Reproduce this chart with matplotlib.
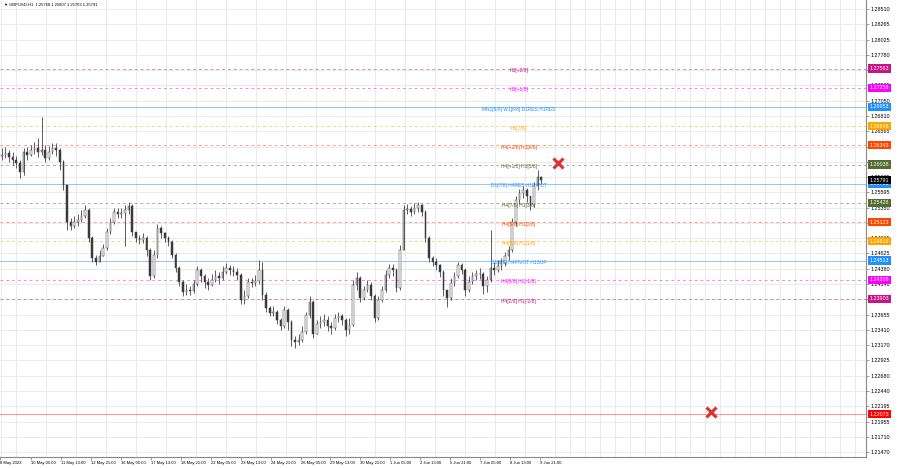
import matplotlib.pyplot as plt
import numpy as np

plt.rcParams['font.family'] = ['Liberation Sans', 'DejaVu Sans']

# GBPUSD H1, resampled to 4-hour candles
close = [1.2619, 1.2622, 1.2616, 1.2611, 1.2606, 1.2592, 1.2624, 1.2619, 1.2627, 1.2630,
         1.2624, 1.2627, 1.2614, 1.2624, 1.2630, 1.2627, 1.2608, 1.2571, 1.2513, 1.2506,
         1.2513, 1.2516, 1.2522, 1.2532, 1.2487, 1.2455, 1.2449, 1.2458, 1.2471, 1.2497,
         1.2513, 1.2528, 1.2525, 1.2527, 1.2532, 1.2538, 1.2497, 1.2487, 1.2484, 1.2487,
         1.2468, 1.2427, 1.2460, 1.2503, 1.2495, 1.2487, 1.2481, 1.2460, 1.2439, 1.2417,
         1.2401, 1.2404, 1.2403, 1.2414, 1.2436, 1.2427, 1.2417, 1.2412, 1.2420, 1.2427,
         1.2423, 1.2433, 1.2439, 1.2436, 1.2433, 1.2428, 1.2389, 1.2395, 1.2417, 1.2416,
         1.2419, 1.2436, 1.2396, 1.2376, 1.2368, 1.2369, 1.2357, 1.2347, 1.2373, 1.2354,
         1.2325, 1.2322, 1.2325, 1.2338, 1.2365, 1.2385, 1.2335, 1.2350, 1.2354, 1.2357,
         1.2347, 1.2344, 1.2360, 1.2363, 1.2357, 1.2341, 1.2349, 1.2412, 1.2423, 1.2392,
         1.2404, 1.2412, 1.2395, 1.2360, 1.2389, 1.2404, 1.2428, 1.2439, 1.2436, 1.2408,
         1.2468, 1.2532, 1.2533, 1.2528, 1.2535, 1.2540, 1.2528, 1.2487, 1.2455, 1.2449,
         1.2444, 1.2433, 1.2404, 1.2392, 1.2416, 1.2427, 1.2444, 1.2436, 1.2404, 1.2417,
         1.2427, 1.2430, 1.2430, 1.2411, 1.2420, 1.2439, 1.2436, 1.2443, 1.2447, 1.2458,
         1.2468, 1.2513, 1.2547, 1.2559, 1.2563, 1.2554, 1.2540, 1.2570, 1.2584, 1.25791]
high = [1.2630, 1.2632, 1.2627, 1.2624, 1.2617, 1.2611, 1.2630, 1.2632, 1.2635, 1.2640,
        1.2646, 1.2679, 1.2635, 1.2633, 1.2638, 1.2638, 1.2630, 1.2611, 1.2571, 1.2519,
        1.2522, 1.2525, 1.2532, 1.2540, 1.2535, 1.2490, 1.2460, 1.2468, 1.2478, 1.2503,
        1.2519, 1.2535, 1.2535, 1.2535, 1.2540, 1.2544, 1.2541, 1.2497, 1.2492, 1.2495,
        1.2490, 1.2471, 1.2468, 1.2509, 1.2506, 1.2497, 1.2490, 1.2484, 1.2463, 1.2443,
        1.2420, 1.2414, 1.2411, 1.2420, 1.2443, 1.2439, 1.2430, 1.2423, 1.2430, 1.2436,
        1.2433, 1.2443, 1.2447, 1.2444, 1.2443, 1.2439, 1.2431, 1.2404, 1.2423, 1.2423,
        1.2428, 1.2452, 1.2449, 1.2401, 1.2379, 1.2379, 1.2373, 1.2360, 1.2379, 1.2376,
        1.2357, 1.2331, 1.2335, 1.2347, 1.2369, 1.2395, 1.2389, 1.2357, 1.2363, 1.2366,
        1.2363, 1.2354, 1.2366, 1.2369, 1.2366, 1.2360, 1.2360, 1.2420, 1.2433, 1.2427,
        1.2411, 1.2420, 1.2417, 1.2398, 1.2395, 1.2411, 1.2436, 1.2446, 1.2446, 1.2439,
        1.2476, 1.2540, 1.2541, 1.2538, 1.2543, 1.2544, 1.2541, 1.2532, 1.2490, 1.2458,
        1.2455, 1.2446, 1.2436, 1.2404, 1.2423, 1.2433, 1.2449, 1.2447, 1.2439, 1.2427,
        1.2433, 1.2436, 1.2439, 1.2433, 1.2427, 1.2500, 1.2449, 1.2452, 1.2455, 1.2465,
        1.2474, 1.2519, 1.2554, 1.2565, 1.2570, 1.2567, 1.2554, 1.2576, 1.2595, 1.2586]
low = [1.2611, 1.2614, 1.2608, 1.2603, 1.2598, 1.2582, 1.2587, 1.2611, 1.2617, 1.2621,
       1.2616, 1.2619, 1.2608, 1.2611, 1.2621, 1.2617, 1.2595, 1.2563, 1.2500, 1.2500,
       1.2503, 1.2506, 1.2513, 1.2519, 1.2481, 1.2449, 1.2444, 1.2449, 1.2458, 1.2468,
       1.2493, 1.2509, 1.2519, 1.2519, 1.2474, 1.2525, 1.2490, 1.2481, 1.2478, 1.2479,
       1.2458, 1.2420, 1.2423, 1.2455, 1.2487, 1.2481, 1.2474, 1.2455, 1.2433, 1.2411,
       1.2395, 1.2396, 1.2396, 1.2400, 1.2411, 1.2417, 1.2408, 1.2404, 1.2411, 1.2417,
       1.2414, 1.2420, 1.2430, 1.2428, 1.2427, 1.2420, 1.2382, 1.2382, 1.2392, 1.2409,
       1.2411, 1.2414, 1.2389, 1.2369, 1.2363, 1.2363, 1.2350, 1.2341, 1.2344, 1.2341,
       1.2315, 1.2312, 1.2317, 1.2322, 1.2335, 1.2360, 1.2328, 1.2335, 1.2344, 1.2347,
       1.2339, 1.2335, 1.2341, 1.2354, 1.2349, 1.2331, 1.2335, 1.2347, 1.2404, 1.2385,
       1.2389, 1.2401, 1.2389, 1.2354, 1.2357, 1.2385, 1.2401, 1.2423, 1.2427, 1.2401,
       1.2404, 1.2468, 1.2525, 1.2522, 1.2525, 1.2528, 1.2522, 1.2481, 1.2449, 1.2443,
       1.2436, 1.2425, 1.2395, 1.2377, 1.2389, 1.2411, 1.2423, 1.2430, 1.2395, 1.2401,
       1.2414, 1.2420, 1.2422, 1.2398, 1.2401, 1.2417, 1.2428, 1.2433, 1.2436, 1.2443,
       1.2452, 1.2465, 1.2506, 1.2541, 1.2551, 1.2544, 1.2532, 1.2536, 1.2563, 1.2573]
first_open = 1.2617
last_price = 1.25791
hours_total = 580  # hourly bars covered by the candles

level_prices = [1.27563, 1.27258, 1.26953, 1.26648, 1.26343, 1.26038, 1.25733,
                1.25428, 1.25123, 1.24818, 1.24513, 1.24208, 1.23903]
level_names = ["H1[+2/8]", "H1[+1/8]", "MN1[6/8] W1[6/8] D1RES H1RES", "H1[7/8]",
               "H4[+2/8] H1[6/8]", "H4[+1/8] H1[5/8]", "D1[7/8] H4RES H1PIVOT",
               "H4[7/8] H1[3/8]", "H4[6/8] H1[2/8]", "H4[5/8] H1[1/8]",
               "D1[6/8] H4PIVOT H1SUP", "H4[3/8] H1[-1/8]", "H4[2/8] H1[-2/8]"]
level_colors = ["#C71585", "#FF00FF", "#1E90FF", "#FFA500", "#FF4500", "#556B2F", "#1E90FF",
                "#556B2F", "#FF4500", "#FFA500", "#1E90FF", "#FF00FF", "#C71585"]
level_solid = [False, False, True, False, False, False, True,
               False, False, False, True, False, False]
red_level = 1.22073

mark_hours = [596, 759]
mark_prices = [1.26063, 1.22105]

price_ticks = [1.28510, 1.28265, 1.28025, 1.27780, 1.27535, 1.27295, 1.27050, 1.26810,
               1.26565, 1.26320, 1.26080, 1.25835, 1.25595, 1.25350, 1.25110, 1.24865,
               1.24625, 1.24380, 1.24140, 1.23895, 1.23655, 1.23410, 1.23170, 1.22925,
               1.22680, 1.22440, 1.22195, 1.21955, 1.21710, 1.21470]
time_labels = ["8 May 2023", "10 May 05:00", "11 May 13:00", "12 May 21:00", "16 May 05:00",
               "17 May 13:00", "18 May 21:00", "22 May 05:00", "23 May 13:00", "24 May 21:00",
               "26 May 05:00", "29 May 13:00", "30 May 21:00", "1 Jun 05:00", "2 Jun 13:00",
               "5 Jun 21:00", "7 Jun 05:00", "8 Jun 13:00", "9 Jun 21:00"]
time_label_hours = [0] + [33 + 32 * k for k in range(len(time_labels) - 1)]

close = np.array(close)
high = np.array(high)
low = np.array(low)
opens = np.concatenate([[first_open], close[:-1]])
n = len(close)
step = hours_total / n
x = (np.arange(n) + 0.5) * step

fig = plt.figure(figsize=(9, 4.68), dpi=100)
ax = fig.add_axes([0.0, 11 / 468, 866 / 900, 457 / 468])
ax.set_xlim(0, 925)
ax.set_ylim(1.21391, 1.28653)

# grid
ax.set_xticks(time_label_hours)
ax.set_xticklabels(time_labels, fontsize=3.0)
for lbl in ax.get_xticklabels():
    lbl.set_ha('left')
ax.set_xticks(np.arange(1, 925, 16), minor=True)
ax.tick_params(axis='x', which='major', length=2, pad=1, width=0.5, color='#777777')
ax.tick_params(axis='x', which='minor', length=0)
ax.grid(True, axis='x', which='minor', color='#E8E8E8', lw=0.6)
ax.yaxis.tick_right()
ax.set_yticks(price_ticks)
ax.set_yticklabels([f"{p:.5f}" for p in price_ticks], fontsize=3.9)
ax.tick_params(axis='y', length=2, pad=1.5, width=0.5, color='#777777')
ax.grid(True, axis='y', color='#E8E8E8', lw=0.6)
for side in ['left', 'top']:
    ax.spines[side].set_visible(False)
for side in ['right', 'bottom']:
    ax.spines[side].set_color('#888888')
    ax.spines[side].set_linewidth(0.8)

# level lines
for p, name, c, solid in zip(level_prices, level_names, level_colors, level_solid):
    ax.axhline(p, color=c, lw=0.7, alpha=0.5, ls='-' if solid else (0, (3, 3)), zorder=2)
    ax.annotate(name, (0.599, p), xycoords=('axes fraction', 'data'), xytext=(0, -1.5),
                textcoords='offset points', ha='center', va='center', fontsize=3.5,
                color=c, zorder=6)
ax.axhline(red_level, color='#FF0000', lw=0.8, alpha=0.4, zorder=2)

# candles
w = step * 0.45
ax.vlines(x, low, high, color='#333333', lw=0.55, zorder=3)
up = close >= opens
ax.bar(x[up], (close - opens)[up], bottom=opens[up], width=w, color='white',
       edgecolor='#3a3a3a', lw=0.35, zorder=4)
ax.bar(x[~up], (close - opens)[~up], bottom=opens[~up], width=w, color='#3a3a3a',
       edgecolor='#3a3a3a', lw=0.35, zorder=4)

ax.plot(mark_hours, mark_prices, 'x', color='#E03030', ms=7, mew=2.2, zorder=7)

# price boxes on the right scale
ytr = ax.get_yaxis_transform()
boxes = list(zip(level_prices, level_colors)) + [(last_price, '#000000'), (red_level, '#FF0000')]
for p, c in boxes:
    ax.text(1.004, p, f"{p:.5f}", transform=ytr, ha='left', va='center', fontsize=3.9,
            color='white', clip_on=False, zorder=10,
            bbox=dict(boxstyle='square,pad=0.3', fc=c, ec='none'))

fig.text(3 / 900, 1 - 5 / 468, "\u25BC", fontsize=3, va='center', ha='left')
fig.text(9 / 900, 1 - 5 / 468, "GBPUSD,H1  1.25768 1.25807 1.25763 1.25791",
         fontsize=3.0, va='center', ha='left')

fig.savefig('out.png', dpi=100, facecolor='white')
